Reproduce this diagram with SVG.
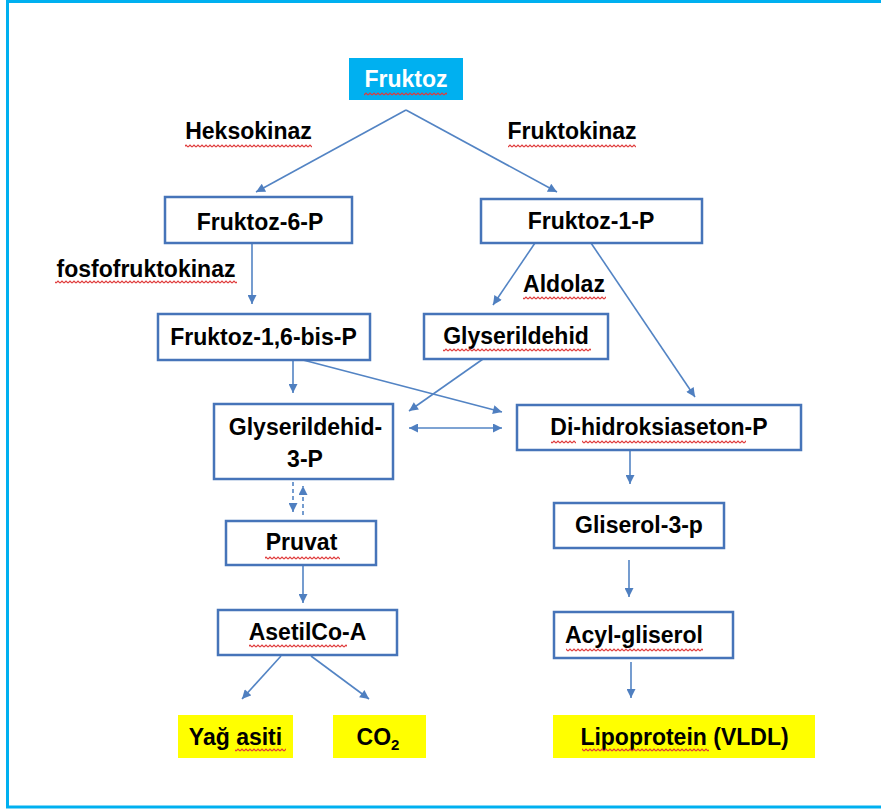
<svg xmlns="http://www.w3.org/2000/svg" width="881" height="809" viewBox="0 0 881 809">
<style>
.box{fill:#fff;stroke:#4674b9;stroke-width:2.5}
.t{font-family:"Liberation Sans",Arial,sans-serif;font-weight:bold;font-size:23px;fill:#000;text-anchor:middle}
.c{stroke:#5384c4;stroke-width:1.6;fill:none}
.sq{fill:url(#squig)}
</style>
<defs>
<marker id="ah" viewBox="0 0 10 10" refX="10" refY="5" markerWidth="10" markerHeight="9" markerUnits="userSpaceOnUse" orient="auto-start-reverse">
<path d="M0,0 L10,5 L0,10 z" fill="#4f7fc0"/>
</marker>
<pattern id="squig" x="0" y="0" width="4" height="4" patternUnits="userSpaceOnUse">
<path d="M0,3 L2,1 L4,3" fill="none" stroke="#e03a3a" stroke-width="1.2"/>
</pattern>
</defs>
<rect x="7.5" y="1.5" width="900" height="805.5" fill="#fff" stroke="#00b0f0" stroke-width="3"/>

<g id="connectors">
<line class="c" x1="406" y1="110" x2="256" y2="192" marker-end="url(#ah)"/>
<line class="c" x1="406" y1="110" x2="557" y2="192" marker-end="url(#ah)"/>
<line class="c" x1="252" y1="243" x2="252" y2="304" marker-end="url(#ah)"/>
<line class="c" x1="535" y1="243" x2="493" y2="305" marker-end="url(#ah)"/>
<line class="c" x1="591" y1="243" x2="695" y2="397" marker-end="url(#ah)"/>
<line class="c" x1="293" y1="360" x2="293" y2="393" marker-end="url(#ah)"/>
<line class="c" x1="303" y1="360" x2="502" y2="412" marker-end="url(#ah)"/>
<line class="c" x1="483" y1="359" x2="409" y2="411" marker-end="url(#ah)"/>
<line class="c" x1="409" y1="428" x2="502" y2="428" marker-start="url(#ah)" marker-end="url(#ah)"/>
<line class="c" x1="293" y1="482" x2="293" y2="512" stroke-dasharray="4 3" marker-end="url(#ah)"/>
<line class="c" x1="303" y1="515" x2="303" y2="486" stroke-dasharray="4 3" marker-end="url(#ah)"/>
<line class="c" x1="303" y1="566" x2="303" y2="603" marker-end="url(#ah)"/>
<line class="c" x1="281" y1="656" x2="242" y2="699" marker-end="url(#ah)"/>
<line class="c" x1="311" y1="656" x2="369" y2="699" marker-end="url(#ah)"/>
<line class="c" x1="630" y1="451" x2="630" y2="484" marker-end="url(#ah)"/>
<line class="c" x1="629" y1="560" x2="629" y2="597" marker-end="url(#ah)"/>
<line class="c" x1="631" y1="662" x2="631" y2="698" marker-end="url(#ah)"/>
</g>

<g id="fruktoz">
<rect x="349" y="58" width="114" height="42" fill="#00b0f0"/>
<text class="t" x="406" y="87" style="fill:#fff">Fruktoz</text>
<rect class="sq" x="364" y="92" width="83" height="4"/>
</g>
<g id="heksokinaz">
<text class="t" x="248.5" y="139">Heksokinaz</text>
<rect class="sq" x="185" y="144" width="127" height="4"/>
</g>
<g id="fruktokinaz">
<text class="t" x="572" y="139">Fruktokinaz</text>
<rect class="sq" x="508" y="144" width="128" height="4"/>
</g>
<g id="fruktoz-6-p">
<rect class="box" x="165" y="197" width="187" height="46"/>
<text class="t" x="260" y="230">Fruktoz-6-P</text>
</g>
<g id="fruktoz-1-p">
<rect class="box" x="481" y="199" width="221" height="44"/>
<text class="t" x="591" y="229">Fruktoz-1-P</text>
</g>
<g id="fosfofruktokinaz">
<text class="t" x="146" y="277">fosfofruktokinaz</text>
<rect class="sq" x="55" y="280" width="182" height="4"/>
</g>
<g id="aldolaz">
<text class="t" x="564" y="292">Aldolaz</text>
<rect class="sq" x="523" y="296" width="83" height="4"/>
</g>
<g id="fruktoz-16-bis-p">
<rect class="box" x="158" y="314" width="212" height="46"/>
<text class="t" x="263.5" y="345">Fruktoz-1,6-bis-P</text>
</g>
<g id="glyserildehid">
<rect class="box" x="424" y="314" width="184" height="45"/>
<text class="t" x="516" y="344">Glyserildehid</text>
<rect class="sq" x="443" y="348" width="148" height="4"/>
</g>
<g id="glyserildehid-3-p">
<rect class="box" x="214" y="404" width="179" height="75"/>
<text class="t" x="305.5" y="435">Glyserildehid-</text>
<text class="t" x="305" y="467">3-P</text>
</g>
<g id="di-hidroksiaseton-p">
<rect class="box" x="517" y="405" width="284" height="45"/>
<text class="t" x="659" y="435">Di-hidroksiaseton-P</text>
<rect class="sq" x="551" y="440" width="25" height="4"/>
<rect class="sq" x="582" y="440" width="164" height="4"/>
</g>
<g id="pruvat">
<rect class="box" x="226" y="521" width="150" height="44"/>
<text class="t" x="301.5" y="550">Pruvat</text>
<rect class="sq" x="265" y="556" width="75" height="4"/>
</g>
<g id="gliserol-3-p">
<rect class="box" x="554" y="503" width="170" height="45"/>
<text class="t" x="639" y="533">Gliserol-3-p</text>
</g>
<g id="asetilcoa">
<rect class="box" x="218" y="610" width="179" height="45"/>
<text class="t" x="307.5" y="640">AsetilCo-A</text>
<rect class="sq" x="249" y="644" width="98" height="4"/>
</g>
<g id="acyl-gliserol">
<rect class="box" x="554" y="612" width="179" height="46"/>
<text class="t" x="634" y="643">Acyl-gliserol</text>
<rect class="sq" x="566" y="648" width="137" height="4"/>
</g>
<g id="yag-asiti">
<rect x="178" y="715" width="115" height="43" fill="#ffff00"/>
<text class="t" x="235.5" y="745">Yağ asiti</text>
<rect class="sq" x="235" y="748" width="51" height="4"/>
</g>
<g id="co2">
<rect x="333" y="715" width="93" height="43" fill="#ffff00"/>
<text class="t" x="378" y="745">CO<tspan font-size="15" dy="5">2</tspan></text>
</g>
<g id="lipoprotein">
<rect x="553" y="715" width="262" height="43" fill="#ffff00"/>
<text class="t" x="684.5" y="745">Lipoprotein (VLDL)</text>
<rect class="sq" x="582" y="748" width="127" height="4"/>
</g>
</svg>
